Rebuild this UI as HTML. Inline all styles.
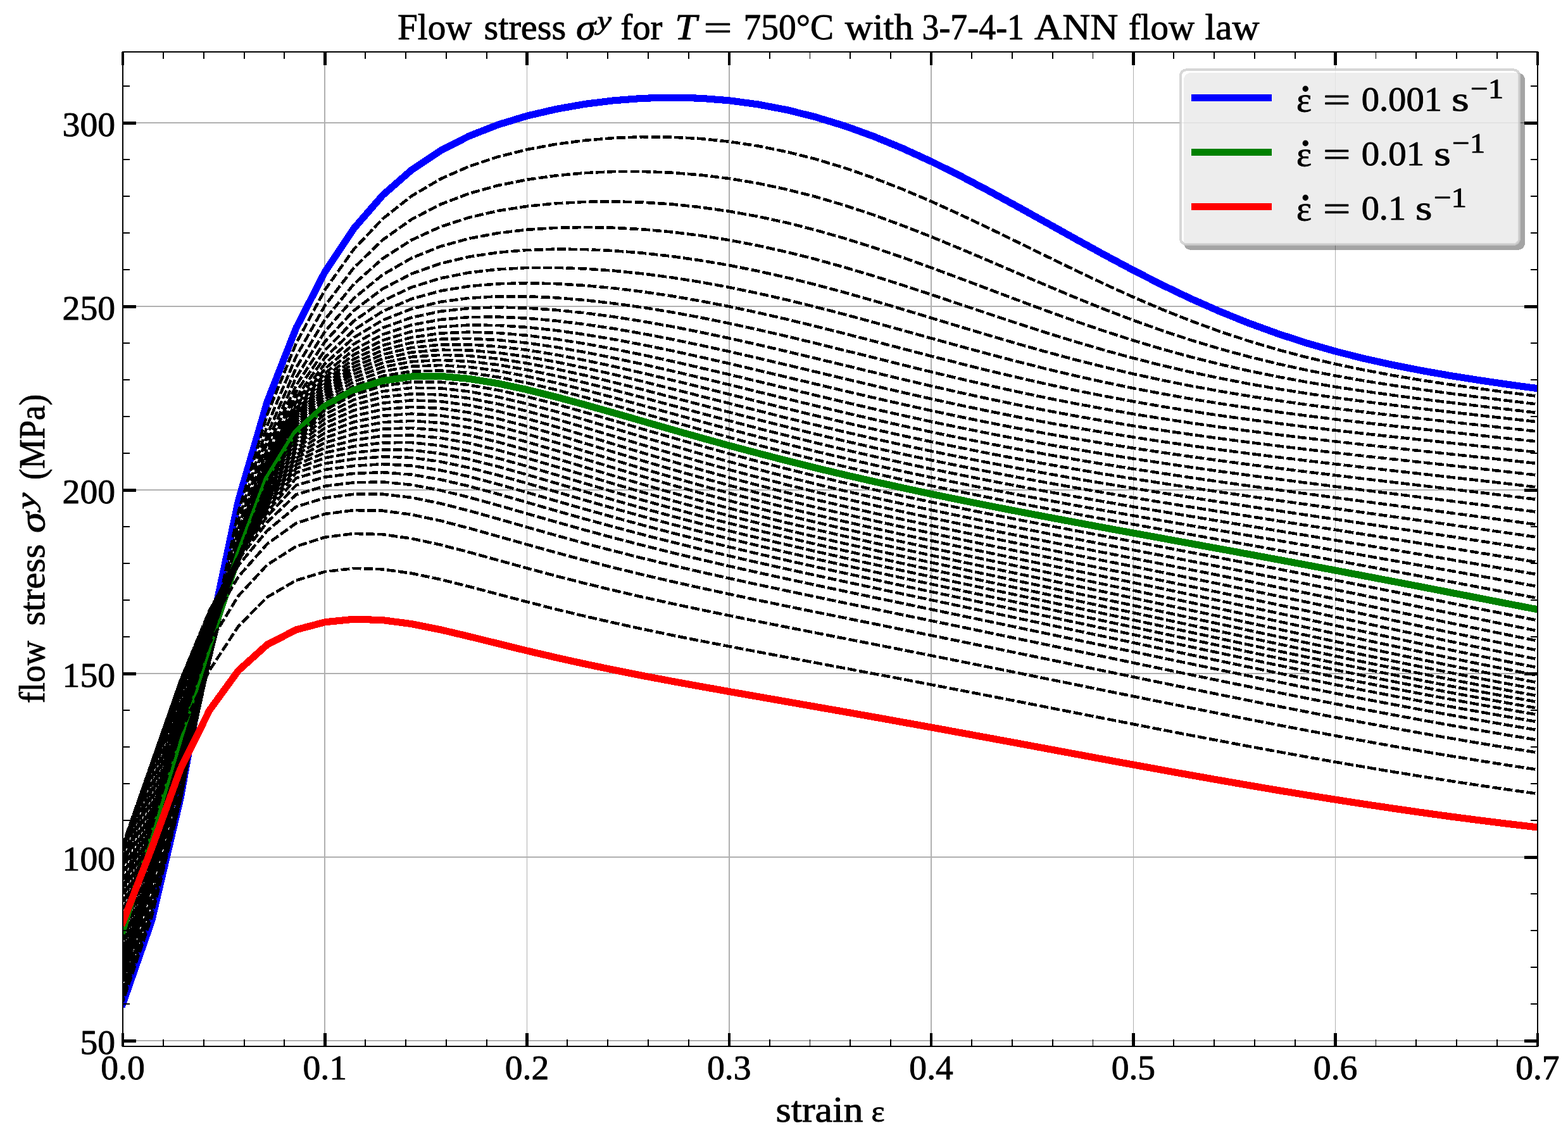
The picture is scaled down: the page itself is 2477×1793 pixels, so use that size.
<!DOCTYPE html>
<html lang="en"><head><meta charset="utf-8"><title>Flow stress for T = 750°C with 3-7-4-1 ANN flow law</title>
<style>html,body{margin:0;padding:0;background:#fff;width:2477px;height:1793px;overflow:hidden}svg{display:block}text{font-family:"Liberation Serif","DejaVu Serif",serif;fill:#000;stroke:#000;stroke-width:0.9px;stroke-linejoin:round}.t{font-size:55.6px}.i{font-style:italic}.d{fill:none;stroke:#000;stroke-width:4.6;stroke-dasharray:13.99 4.18;stroke-dashoffset:14.55;stroke-linejoin:round;shape-rendering:crispEdges}.c{fill:none;stroke-width:11.1;stroke-linejoin:round;stroke-linecap:square;shape-rendering:crispEdges}.g{stroke:#b0b0b0;stroke-width:1.7}.M{stroke:#000;stroke-width:4.6}.m{stroke:#000;stroke-width:1.9}</style></head><body>
<svg width="2477" height="1793" viewBox="0 0 2477 1793" shape-rendering="crispEdges">
<rect width="2477" height="1793" fill="#fff"/>
<defs><clipPath id="ax"><rect x="194.0" y="81.7" width="2234.9" height="1571.4"/></clipPath></defs>
<g class="g">
<line x1="194.0" y1="81.7" x2="194.0" y2="1653.1"/>
<line x1="513.3" y1="81.7" x2="513.3" y2="1653.1"/>
<line x1="832.5" y1="81.7" x2="832.5" y2="1653.1"/>
<line x1="1151.8" y1="81.7" x2="1151.8" y2="1653.1"/>
<line x1="1471.1" y1="81.7" x2="1471.1" y2="1653.1"/>
<line x1="1790.4" y1="81.7" x2="1790.4" y2="1653.1"/>
<line x1="2109.6" y1="81.7" x2="2109.6" y2="1653.1"/>
<line x1="2428.9" y1="81.7" x2="2428.9" y2="1653.1"/>
<line x1="194.0" y1="1644.3" x2="2428.9" y2="1644.3"/>
<line x1="194.0" y1="1354.3" x2="2428.9" y2="1354.3"/>
<line x1="194.0" y1="1064.3" x2="2428.9" y2="1064.3"/>
<line x1="194.0" y1="774.2" x2="2428.9" y2="774.2"/>
<line x1="194.0" y1="484.2" x2="2428.9" y2="484.2"/>
<line x1="194.0" y1="194.2" x2="2428.9" y2="194.2"/>
</g>
<g clip-path="url(#ax)">
<polyline class="c" stroke="#0000ff" points="2428.9,613.7 2383.3,607.5 2337.7,600.8 2292.1,593.6 2246.5,585.6 2200.8,576.6 2155.2,566.5 2109.6,555.0 2064.0,541.9 2018.4,527.1 1972.8,510.5 1927.2,492.1 1881.6,472.0 1836.0,450.2 1790.4,427.0 1744.7,402.6 1699.1,377.5 1653.5,352.0 1607.9,326.6 1562.3,301.7 1516.7,277.7 1471.1,255.1 1425.5,234.2 1379.9,215.4 1334.3,198.9 1288.6,185.0 1243.0,173.6 1197.4,164.9 1151.8,158.8 1106.2,155.2 1060.6,154.1 1015.0,155.3 969.4,158.8 923.8,164.4 878.2,172.5 832.5,183.1 786.9,197.0 741.3,214.8 695.7,238.1 650.1,268.5 604.5,308.5 558.9,361.0 513.3,429.5 467.7,518.5 422.1,634.7 376.4,791.6 330.8,1007.1 285.2,1260.5 239.6,1454.7 194.0,1585.6"/>
<polyline class="d" points="2428.9,625.9 2383.3,620.1 2337.7,614.0 2292.1,607.6 2246.5,600.7 2200.8,593.1 2155.2,584.6 2109.6,575.1 2064.0,564.4 2018.4,552.3 1972.8,538.8 1927.2,523.7 1881.6,507.0 1836.0,488.9 1790.4,469.4 1744.7,448.7 1699.1,427.1 1653.5,405.0 1607.9,382.7 1562.3,360.5 1516.7,338.9 1471.1,318.2 1425.5,298.8 1379.9,281.1 1334.3,265.2 1288.6,251.4 1243.0,239.9 1197.4,230.6 1151.8,223.7 1106.2,219.0 1060.6,216.6 1015.0,216.2 969.4,218.0 923.8,221.8 878.2,227.8 832.5,236.2 786.9,247.6 741.3,262.7 695.7,282.8 650.1,309.7 604.5,345.7 558.9,393.9 513.3,457.9 467.7,542.5 422.1,655.2 376.4,809.4 330.8,1021.1 285.2,1263.9 239.6,1448.4 194.0,1582.0"/>
<polyline class="d" points="2428.9,638.6 2383.3,633.1 2337.7,627.5 2292.1,621.7 2246.5,615.5 2200.8,608.8 2155.2,601.6 2109.6,593.6 2064.0,584.7 2018.4,574.7 1972.8,563.5 1927.2,551.1 1881.6,537.4 1836.0,522.3 1790.4,506.0 1744.7,488.6 1699.1,470.2 1653.5,451.1 1607.9,431.7 1562.3,412.1 1516.7,392.8 1471.1,374.0 1425.5,356.2 1379.9,339.5 1334.3,324.4 1288.6,310.9 1243.0,299.3 1197.4,289.6 1151.8,282.0 1106.2,276.4 1060.6,272.7 1015.0,271.0 969.4,271.1 923.8,273.2 878.2,277.4 832.5,283.8 786.9,292.9 741.3,305.6 695.7,322.9 650.1,346.6 604.5,379.0 558.9,423.2 513.3,482.9 467.7,563.4 422.1,672.5 376.4,823.9 330.8,1031.5 285.2,1264.2 239.6,1441.4 194.0,1578.3"/>
<polyline class="d" points="2428.9,652.1 2383.3,646.8 2337.7,641.5 2292.1,636.0 2246.5,630.4 2200.8,624.4 2155.2,618.0 2109.6,611.1 2064.0,603.5 2018.4,595.1 1972.8,585.8 1927.2,575.5 1881.6,564.0 1836.0,551.5 1790.4,537.8 1744.7,523.1 1699.1,507.5 1653.5,491.1 1607.9,474.2 1562.3,457.0 1516.7,439.8 1471.1,422.9 1425.5,406.5 1379.9,391.0 1334.3,376.6 1288.6,363.5 1243.0,351.9 1197.4,342.0 1151.8,333.8 1106.2,327.3 1060.6,322.5 1015.0,319.6 969.4,318.3 923.8,318.9 878.2,321.3 832.5,325.9 786.9,333.0 741.3,343.5 695.7,358.3 650.1,379.2 604.5,408.4 558.9,448.9 513.3,504.8 467.7,581.3 422.1,686.8 376.4,835.2 330.8,1038.8 285.2,1262.0 239.6,1434.0 194.0,1574.2"/>
<polyline class="d" points="2428.9,666.4 2383.3,661.3 2337.7,656.2 2292.1,651.0 2246.5,645.7 2200.8,640.1 2155.2,634.3 2109.6,628.2 2064.0,621.5 2018.4,614.3 1972.8,606.3 1927.2,597.5 1881.6,587.9 1836.0,577.3 1790.4,565.8 1744.7,553.3 1699.1,539.9 1653.5,525.8 1607.9,511.1 1562.3,496.0 1516.7,480.7 1471.1,465.4 1425.5,450.4 1379.9,435.9 1334.3,422.3 1288.6,409.6 1243.0,398.2 1197.4,388.0 1151.8,379.3 1106.2,372.1 1060.6,366.4 1015.0,362.3 969.4,359.8 923.8,359.0 878.2,359.9 832.5,362.8 786.9,368.2 741.3,376.7 695.7,389.3 650.1,407.7 604.5,434.0 558.9,471.3 513.3,523.6 467.7,596.4 422.1,698.5 376.4,844.0 330.8,1043.4 285.2,1257.9 239.6,1426.5 194.0,1569.9"/>
<polyline class="d" points="2428.9,681.6 2383.3,676.6 2337.7,671.6 2292.1,666.6 2246.5,661.5 2200.8,656.3 2155.2,650.9 2109.6,645.2 2064.0,639.2 2018.4,632.7 1972.8,625.7 1927.2,618.0 1881.6,609.7 1836.0,600.6 1790.4,590.7 1744.7,579.9 1699.1,568.4 1653.5,556.1 1607.9,543.2 1562.3,529.8 1516.7,516.1 1471.1,502.3 1425.5,488.5 1379.9,475.0 1334.3,462.1 1288.6,449.8 1243.0,438.5 1197.4,428.2 1151.8,419.1 1106.2,411.3 1060.6,404.8 1015.0,399.7 969.4,396.1 923.8,394.0 878.2,393.6 832.5,395.0 786.9,398.8 741.3,405.6 695.7,416.3 650.1,432.5 604.5,456.3 558.9,490.6 513.3,539.7 467.7,609.0 422.1,707.9 376.4,850.6 330.8,1045.9 285.2,1252.4 239.6,1418.8 194.0,1565.2"/>
<polyline class="d" points="2428.9,697.6 2383.3,692.7 2337.7,687.8 2292.1,682.8 2246.5,677.9 2200.8,672.9 2155.2,667.7 2109.6,662.4 2064.0,656.7 2018.4,650.8 1972.8,644.4 1927.2,637.5 1881.6,630.1 1836.0,622.0 1790.4,613.3 1744.7,603.8 1699.1,593.7 1653.5,582.9 1607.9,571.4 1562.3,559.4 1516.7,547.0 1471.1,534.4 1425.5,521.7 1379.9,509.1 1334.3,496.7 1288.6,484.9 1243.0,473.7 1197.4,463.3 1151.8,453.9 1106.2,445.5 1060.6,438.3 1015.0,432.3 969.4,427.7 923.8,424.5 878.2,422.8 832.5,423.0 786.9,425.4 741.3,430.6 695.7,439.6 650.1,453.8 604.5,475.4 558.9,507.2 513.3,553.3 467.7,619.5 422.1,715.3 376.4,855.4 330.8,1046.8 285.2,1246.0 239.6,1411.2 194.0,1560.3"/>
<polyline class="d" points="2428.9,714.5 2383.3,709.6 2337.7,704.7 2292.1,699.8 2246.5,694.9 2200.8,690.0 2155.2,685.0 2109.6,679.8 2064.0,674.4 2018.4,668.7 1972.8,662.7 1927.2,656.4 1881.6,649.5 1836.0,642.2 1790.4,634.2 1744.7,625.7 1699.1,616.6 1653.5,606.8 1607.9,596.4 1562.3,585.6 1516.7,574.2 1471.1,562.6 1425.5,550.7 1379.9,538.8 1334.3,527.0 1288.6,515.5 1243.0,504.4 1197.4,493.9 1151.8,484.2 1106.2,475.4 1060.6,467.5 1015.0,460.8 969.4,455.2 923.8,451.0 878.2,448.2 832.5,447.2 786.9,448.3 741.3,452.1 695.7,459.6 650.1,472.2 604.5,491.8 558.9,521.3 513.3,564.8 467.7,628.1 422.1,721.1 376.4,858.8 330.8,1046.4 285.2,1239.1 239.6,1403.7 194.0,1555.2"/>
<polyline class="d" points="2428.9,732.2 2383.3,727.2 2337.7,722.3 2292.1,717.4 2246.5,712.5 2200.8,707.5 2155.2,702.5 2109.6,697.4 2064.0,692.1 2018.4,686.6 1972.8,680.8 1927.2,674.7 1881.6,668.2 1836.0,661.3 1790.4,653.9 1744.7,646.0 1699.1,637.6 1653.5,628.6 1607.9,619.0 1562.3,608.9 1516.7,598.4 1471.1,587.5 1425.5,576.3 1379.9,564.9 1334.3,553.6 1288.6,542.3 1243.0,531.3 1197.4,520.8 1151.8,510.8 1106.2,501.5 1060.6,493.1 1015.0,485.6 969.4,479.3 923.8,474.1 878.2,470.3 832.5,468.2 786.9,468.2 741.3,470.8 695.7,476.9 650.1,487.9 604.5,505.8 558.9,533.3 513.3,574.5 467.7,635.2 422.1,725.7 376.4,861.2 330.8,1045.2 285.2,1231.9 239.6,1396.3 194.0,1549.9"/>
<polyline class="d" points="2428.9,750.7 2383.3,745.5 2337.7,740.5 2292.1,735.4 2246.5,730.4 2200.8,725.4 2155.2,720.4 2109.6,715.2 2064.0,709.9 2018.4,704.4 1972.8,698.7 1927.2,692.7 1881.6,686.4 1836.0,679.8 1790.4,672.7 1744.7,665.1 1699.1,657.1 1653.5,648.6 1607.9,639.6 1562.3,630.1 1516.7,620.2 1471.1,609.8 1425.5,599.1 1379.9,588.2 1334.3,577.1 1288.6,566.1 1243.0,555.2 1197.4,544.5 1151.8,534.3 1106.2,524.7 1060.6,515.7 1015.0,507.6 969.4,500.4 923.8,494.4 878.2,489.7 832.5,486.6 786.9,485.4 741.3,486.9 695.7,491.9 650.1,501.6 604.5,517.9 558.9,543.6 513.3,582.7 467.7,641.1 422.1,729.3 376.4,862.9 330.8,1043.3 285.2,1224.6 239.6,1389.0 194.0,1544.3"/>
<polyline class="d" points="2428.9,769.7 2383.3,764.3 2337.7,759.1 2292.1,753.9 2246.5,748.7 2200.8,743.6 2155.2,738.4 2109.6,733.1 2064.0,727.7 2018.4,722.1 1972.8,716.4 1927.2,710.4 1881.6,704.1 1836.0,697.6 1790.4,690.6 1744.7,683.3 1699.1,675.6 1653.5,667.4 1607.9,658.7 1562.3,649.6 1516.7,640.1 1471.1,630.1 1425.5,619.8 1379.9,609.1 1334.3,598.3 1288.6,587.4 1243.0,576.5 1197.4,565.8 1151.8,555.3 1106.2,545.3 1060.6,535.8 1015.0,527.0 969.4,519.1 923.8,512.3 878.2,506.7 832.5,502.7 786.9,500.6 741.3,501.0 695.7,504.9 650.1,513.4 604.5,528.4 558.9,552.6 513.3,589.8 467.7,646.1 422.1,732.2 376.4,864.1 330.8,1041.0 285.2,1217.5 239.6,1381.9 194.0,1538.6"/>
<polyline class="d" points="2428.9,789.1 2383.3,783.5 2337.7,778.0 2292.1,772.6 2246.5,767.2 2200.8,761.8 2155.2,756.4 2109.6,750.9 2064.0,745.3 2018.4,739.6 1972.8,733.8 1927.2,727.7 1881.6,721.4 1836.0,714.8 1790.4,707.9 1744.7,700.7 1699.1,693.1 1653.5,685.0 1607.9,676.6 1562.3,667.7 1516.7,658.4 1471.1,648.7 1425.5,638.6 1379.9,628.2 1334.3,617.6 1288.6,606.7 1243.0,595.8 1197.4,585.0 1151.8,574.3 1106.2,563.9 1060.6,553.9 1015.0,544.6 969.4,536.0 923.8,528.4 878.2,521.9 832.5,517.0 786.9,514.0 741.3,513.5 695.7,516.3 650.1,523.7 604.5,537.6 558.9,560.3 513.3,595.9 467.7,650.3 422.1,734.7 376.4,865.0 330.8,1038.5 285.2,1210.6 239.6,1375.0 194.0,1532.7"/>
<polyline class="d" points="2428.9,808.9 2383.3,803.0 2337.7,797.2 2292.1,791.5 2246.5,785.7 2200.8,780.1 2155.2,774.4 2109.6,768.6 2064.0,762.8 2018.4,756.9 1972.8,750.8 1927.2,744.6 1881.6,738.2 1836.0,731.5 1790.4,724.6 1744.7,717.3 1699.1,709.7 1653.5,701.8 1607.9,693.5 1562.3,684.7 1516.7,675.6 1471.1,666.1 1425.5,656.1 1379.9,645.9 1334.3,635.3 1288.6,624.5 1243.0,613.5 1197.4,602.5 1151.8,591.6 1106.2,580.9 1060.6,570.4 1015.0,560.5 969.4,551.3 923.8,542.9 878.2,535.7 832.5,529.9 786.9,526.0 741.3,524.6 695.7,526.5 650.1,533.0 604.5,545.7 558.9,567.3 513.3,601.4 467.7,654.1 422.1,736.8 376.4,865.9 330.8,1036.0 285.2,1204.0 239.6,1368.2 194.0,1526.6"/>
<polyline class="d" points="2428.9,828.8 2383.3,822.6 2337.7,816.4 2292.1,810.3 2246.5,804.2 2200.8,798.2 2155.2,792.2 2109.6,786.1 2064.0,780.0 2018.4,773.8 1972.8,767.5 1927.2,761.1 1881.6,754.5 1836.0,747.7 1790.4,740.7 1744.7,733.4 1699.1,725.8 1653.5,717.8 1607.9,709.5 1562.3,700.9 1516.7,691.8 1471.1,682.4 1425.5,672.5 1379.9,662.4 1334.3,651.8 1288.6,641.0 1243.0,630.0 1197.4,618.9 1151.8,607.7 1106.2,596.6 1060.6,585.8 1015.0,575.3 969.4,565.5 923.8,556.4 878.2,548.4 832.5,541.8 786.9,537.1 741.3,534.8 695.7,535.8 650.1,541.4 604.5,553.2 558.9,573.6 513.3,606.4 467.7,657.5 422.1,738.8 376.4,866.8 330.8,1033.4 285.2,1197.8 239.6,1361.6 194.0,1520.4"/>
<polyline class="d" points="2428.9,848.7 2383.3,842.1 2337.7,835.6 2292.1,829.1 2246.5,822.6 2200.8,816.2 2155.2,809.8 2109.6,803.4 2064.0,796.9 2018.4,790.5 1972.8,783.9 1927.2,777.2 1881.6,770.4 1836.0,763.4 1790.4,756.3 1744.7,748.9 1699.1,741.2 1653.5,733.2 1607.9,724.9 1562.3,716.3 1516.7,707.2 1471.1,697.8 1425.5,688.1 1379.9,677.9 1334.3,667.4 1288.6,656.6 1243.0,645.5 1197.4,634.2 1151.8,622.8 1106.2,611.4 1060.6,600.2 1015.0,589.3 969.4,578.8 923.8,569.1 878.2,560.3 832.5,552.9 786.9,547.4 741.3,544.3 695.7,544.5 650.1,549.2 604.5,560.1 558.9,579.5 513.3,611.1 467.7,660.8 422.1,740.8 376.4,867.9 330.8,1030.9 285.2,1191.9 239.6,1355.0 194.0,1514.0"/>
<polyline class="d" points="2428.9,868.6 2383.3,861.6 2337.7,854.6 2292.1,847.6 2246.5,840.8 2200.8,833.9 2155.2,827.1 2109.6,820.3 2064.0,813.6 2018.4,806.7 1972.8,799.9 1927.2,793.0 1881.6,785.9 1836.0,778.7 1790.4,771.4 1744.7,763.8 1699.1,756.1 1653.5,748.0 1607.9,739.7 1562.3,731.0 1516.7,722.0 1471.1,712.7 1425.5,702.9 1379.9,692.8 1334.3,682.3 1288.6,671.4 1243.0,660.3 1197.4,648.8 1151.8,637.2 1106.2,625.6 1060.6,614.0 1015.0,602.5 969.4,591.5 923.8,581.2 878.2,571.7 832.5,563.6 786.9,557.2 741.3,553.3 695.7,552.7 650.1,556.6 604.5,566.7 558.9,585.3 513.3,615.7 467.7,664.1 422.1,743.0 376.4,869.2 330.8,1028.4 285.2,1186.3 239.6,1348.5 194.0,1507.3"/>
<polyline class="d" points="2428.9,888.2 2383.3,880.8 2337.7,873.4 2292.1,866.0 2246.5,858.7 2200.8,851.4 2155.2,844.2 2109.6,837.0 2064.0,829.9 2018.4,822.7 1972.8,815.5 1927.2,808.3 1881.6,801.0 1836.0,793.6 1790.4,786.1 1744.7,778.4 1699.1,770.5 1653.5,762.4 1607.9,754.0 1562.3,745.3 1516.7,736.3 1471.1,726.9 1425.5,717.2 1379.9,707.1 1334.3,696.6 1288.6,685.7 1243.0,674.4 1197.4,662.9 1151.8,651.1 1106.2,639.2 1060.6,627.3 1015.0,615.4 969.4,603.9 923.8,592.9 878.2,582.8 832.5,573.9 786.9,566.8 741.3,562.1 695.7,560.8 650.1,563.9 604.5,573.3 558.9,591.0 513.3,620.4 467.7,667.5 422.1,745.3 376.4,870.7 330.8,1026.0 285.2,1181.0 239.6,1342.0 194.0,1500.4"/>
<polyline class="d" points="2428.9,907.6 2383.3,899.7 2337.7,891.9 2292.1,884.1 2246.5,876.3 2200.8,868.6 2155.2,861.0 2109.6,853.4 2064.0,845.9 2018.4,838.4 1972.8,830.9 1927.2,823.4 1881.6,815.8 1836.0,808.2 1790.4,800.5 1744.7,792.6 1699.1,784.6 1653.5,776.4 1607.9,767.9 1562.3,759.2 1516.7,750.1 1471.1,740.8 1425.5,731.0 1379.9,720.9 1334.3,710.4 1288.6,699.5 1243.0,688.2 1197.4,676.6 1151.8,664.6 1106.2,652.5 1060.6,640.2 1015.0,628.0 969.4,616.0 923.8,604.5 878.2,593.7 832.5,584.2 786.9,576.3 741.3,570.9 695.7,568.8 650.1,571.3 604.5,579.9 558.9,596.9 513.3,625.3 467.7,671.1 422.1,747.8 376.4,872.5 330.8,1023.7 285.2,1175.8 239.6,1335.5 194.0,1493.1"/>
<polyline class="d" points="2428.9,926.5 2383.3,918.2 2337.7,910.0 2292.1,901.8 2246.5,893.7 2200.8,885.6 2155.2,877.5 2109.6,869.6 2064.0,861.7 2018.4,853.8 1972.8,846.0 1927.2,838.2 1881.6,830.4 1836.0,822.5 1790.4,814.6 1744.7,806.5 1699.1,798.4 1653.5,790.0 1607.9,781.5 1562.3,772.7 1516.7,763.6 1471.1,754.2 1425.5,744.5 1379.9,734.4 1334.3,723.9 1288.6,713.0 1243.0,701.6 1197.4,689.9 1151.8,677.9 1106.2,665.6 1060.6,653.0 1015.0,640.5 969.4,628.1 923.8,616.0 878.2,604.7 832.5,594.5 786.9,585.9 741.3,579.8 695.7,577.0 650.1,578.8 604.5,586.8 558.9,603.0 513.3,630.4 467.7,674.9 422.1,750.7 376.4,874.5 330.8,1021.5 285.2,1170.7 239.6,1328.8 194.0,1485.6"/>
<polyline class="d" points="2428.9,944.9 2383.3,936.4 2337.7,927.8 2292.1,919.2 2246.5,910.7 2200.8,902.2 2155.2,893.8 2109.6,885.5 2064.0,877.2 2018.4,869.0 1972.8,860.8 1927.2,852.7 1881.6,844.6 1836.0,836.5 1790.4,828.4 1744.7,820.2 1699.1,811.9 1653.5,803.4 1607.9,794.8 1562.3,786.0 1516.7,776.8 1471.1,767.4 1425.5,757.7 1379.9,747.6 1334.3,737.1 1288.6,726.2 1243.0,714.8 1197.4,703.1 1151.8,690.9 1106.2,678.5 1060.6,665.7 1015.0,652.9 969.4,640.1 923.8,627.6 878.2,615.7 832.5,604.9 786.9,595.7 741.3,588.9 695.7,585.5 650.1,586.6 604.5,594.0 558.9,609.4 513.3,635.8 467.7,678.9 422.1,753.8 376.4,876.7 330.8,1019.2 285.2,1165.6 239.6,1322.0 194.0,1477.7"/>
<polyline class="c" stroke="#008000" points="2428.9,962.8 2383.3,954.0 2337.7,945.1 2292.1,936.2 2246.5,927.3 2200.8,918.5 2155.2,909.8 2109.6,901.1 2064.0,892.5 2018.4,884.0 1972.8,875.5 1927.2,867.1 1881.6,858.8 1836.0,850.4 1790.4,842.1 1744.7,833.7 1699.1,825.2 1653.5,816.6 1607.9,807.9 1562.3,799.0 1516.7,789.8 1471.1,780.4 1425.5,770.6 1379.9,760.5 1334.3,750.1 1288.6,739.2 1243.0,727.8 1197.4,716.0 1151.8,703.9 1106.2,691.3 1060.6,678.4 1015.0,665.3 969.4,652.2 923.8,639.3 878.2,627.0 832.5,615.6 786.9,605.8 741.3,598.4 695.7,594.3 650.1,594.9 604.5,601.6 558.9,616.3 513.3,641.6 467.7,683.3 422.1,757.2 376.4,878.9 330.8,1016.8 285.2,1160.4 239.6,1314.9 194.0,1469.4"/>
<polyline class="d" points="2428.9,980.1 2383.3,971.0 2337.7,961.9 2292.1,952.8 2246.5,943.6 2200.8,934.5 2155.2,925.5 2109.6,916.5 2064.0,907.6 2018.4,898.7 1972.8,890.0 1927.2,881.3 1881.6,872.7 1836.0,864.1 1790.4,855.5 1744.7,847.0 1699.1,838.3 1653.5,829.6 1607.9,820.8 1562.3,811.8 1516.7,802.6 1471.1,793.1 1425.5,783.4 1379.9,773.3 1334.3,762.8 1288.6,751.9 1243.0,740.6 1197.4,728.9 1151.8,716.6 1106.2,704.0 1060.6,691.0 1015.0,677.8 969.4,664.4 923.8,651.2 878.2,638.4 832.5,626.6 786.9,616.3 741.3,608.3 695.7,603.6 650.1,603.5 604.5,609.6 558.9,623.6 513.3,647.8 467.7,687.9 422.1,760.8 376.4,881.2 330.8,1014.4 285.2,1155.1 239.6,1307.6 194.0,1460.7"/>
<polyline class="d" points="2428.9,996.6 2383.3,987.5 2337.7,978.2 2292.1,968.8 2246.5,959.5 2200.8,950.1 2155.2,940.8 2109.6,931.6 2064.0,922.4 2018.4,913.3 1972.8,904.3 1927.2,895.3 1881.6,886.5 1836.0,877.6 1790.4,868.9 1744.7,860.1 1699.1,851.3 1653.5,842.5 1607.9,833.5 1562.3,824.5 1516.7,815.2 1471.1,805.7 1425.5,795.9 1379.9,785.9 1334.3,775.4 1288.6,764.6 1243.0,753.3 1197.4,741.5 1151.8,729.3 1106.2,716.7 1060.6,703.6 1015.0,690.2 969.4,676.7 923.8,663.2 878.2,650.1 832.5,637.9 786.9,627.1 741.3,618.5 695.7,613.3 650.1,612.7 604.5,618.2 558.9,631.4 513.3,654.4 467.7,692.8 422.1,764.6 376.4,883.4 330.8,1011.7 285.2,1149.6 239.6,1300.0 194.0,1451.6"/>
<polyline class="d" points="2428.9,1012.4 2383.3,1003.2 2337.7,993.8 2292.1,984.4 2246.5,974.8 2200.8,965.3 2155.2,955.8 2109.6,946.3 2064.0,936.9 2018.4,927.6 1972.8,918.3 1927.2,909.1 1881.6,900.1 1836.0,891.0 1790.4,882.0 1744.7,873.1 1699.1,864.1 1653.5,855.2 1607.9,846.1 1562.3,836.9 1516.7,827.6 1471.1,818.1 1425.5,808.3 1379.9,798.2 1334.3,787.8 1288.6,777.0 1243.0,765.8 1197.4,754.1 1151.8,741.9 1106.2,729.3 1060.6,716.2 1015.0,702.8 969.4,689.1 923.8,675.4 878.2,662.1 832.5,649.5 786.9,638.2 741.3,629.2 695.7,623.5 650.1,622.3 604.5,627.2 558.9,639.7 513.3,661.4 467.7,697.9 422.1,768.6 376.4,885.4 330.8,1008.7 285.2,1143.9 239.6,1292.1 194.0,1442.1"/>
<polyline class="d" points="2428.9,1027.4 2383.3,1018.2 2337.7,1008.8 2292.1,999.3 2246.5,989.7 2200.8,980.0 2155.2,970.4 2109.6,960.7 2064.0,951.1 2018.4,941.6 1972.8,932.1 1927.2,922.7 1881.6,913.4 1836.0,904.2 1790.4,895.0 1744.7,885.9 1699.1,876.8 1653.5,867.7 1607.9,858.5 1562.3,849.2 1516.7,839.9 1471.1,830.3 1425.5,820.5 1379.9,810.4 1334.3,800.0 1288.6,789.3 1243.0,778.1 1197.4,766.5 1151.8,754.4 1106.2,741.8 1060.6,728.7 1015.0,715.3 969.4,701.6 923.8,687.8 878.2,674.2 832.5,661.3 786.9,649.7 741.3,640.3 695.7,634.1 650.1,632.4 604.5,636.7 558.9,648.3 513.3,668.6 467.7,703.1 422.1,772.6 376.4,887.0 330.8,1005.5 285.2,1137.8 239.6,1283.9 194.0,1432.3"/>
<polyline class="d" points="2428.9,1041.4 2383.3,1032.3 2337.7,1023.0 2292.1,1013.5 2246.5,1003.8 2200.8,994.1 2155.2,984.4 2109.6,974.7 2064.0,964.9 2018.4,955.3 1972.8,945.6 1927.2,936.1 1881.6,926.6 1836.0,917.2 1790.4,907.9 1744.7,898.6 1699.1,889.3 1653.5,880.0 1607.9,870.7 1562.3,861.4 1516.7,851.9 1471.1,842.3 1425.5,832.5 1379.9,822.4 1334.3,812.1 1288.6,801.4 1243.0,790.3 1197.4,778.7 1151.8,766.7 1106.2,754.2 1060.6,741.2 1015.0,727.8 969.4,714.1 923.8,700.2 878.2,686.5 832.5,673.4 786.9,661.6 741.3,651.7 695.7,645.0 650.1,642.9 604.5,646.6 558.9,657.3 513.3,676.2 467.7,708.3 422.1,776.6 376.4,888.2 330.8,1001.8 285.2,1131.5 239.6,1275.4 194.0,1422.1"/>
<polyline class="d" points="2428.9,1054.6 2383.3,1045.6 2337.7,1036.3 2292.1,1026.9 2246.5,1017.4 2200.8,1007.7 2155.2,997.9 2109.6,988.1 2064.0,978.3 2018.4,968.5 1972.8,958.8 1927.2,949.1 1881.6,939.5 1836.0,929.9 1790.4,920.4 1744.7,911.0 1699.1,901.6 1653.5,892.2 1607.9,882.8 1562.3,873.3 1516.7,863.8 1471.1,854.1 1425.5,844.3 1379.9,834.3 1334.3,823.9 1288.6,813.3 1243.0,802.2 1197.4,790.8 1151.8,778.9 1106.2,766.5 1060.6,753.6 1015.0,740.3 969.4,726.6 923.8,712.7 878.2,699.0 832.5,685.8 786.9,673.6 741.3,663.5 695.7,656.4 650.1,653.7 604.5,656.8 558.9,666.6 513.3,683.8 467.7,713.6 422.1,780.6 376.4,888.8 330.8,997.8 285.2,1124.8 239.6,1266.6 194.0,1411.6"/>
<polyline class="d" points="2428.9,1066.9 2383.3,1058.0 2337.7,1048.9 2292.1,1039.6 2246.5,1030.1 2200.8,1020.5 2155.2,1010.8 2109.6,1001.0 2064.0,991.2 2018.4,981.4 1972.8,971.5 1927.2,961.8 1881.6,952.0 1836.0,942.4 1790.4,932.7 1744.7,923.2 1699.1,913.6 1653.5,904.1 1607.9,894.6 1562.3,885.1 1516.7,875.5 1471.1,865.8 1425.5,856.0 1379.9,845.9 1334.3,835.6 1288.6,825.0 1243.0,814.1 1197.4,802.7 1151.8,790.9 1106.2,778.7 1060.6,765.9 1015.0,752.7 969.4,739.1 923.8,725.3 878.2,711.6 832.5,698.2 786.9,685.9 741.3,675.5 695.7,668.0 650.1,664.8 604.5,667.2 558.9,676.1 513.3,691.6 467.7,718.7 422.1,784.5 376.4,888.8 330.8,993.4 285.2,1117.9 239.6,1257.6 194.0,1401.0"/>
<polyline class="d" points="2428.9,1078.3 2383.3,1069.6 2337.7,1060.7 2292.1,1051.6 2246.5,1042.2 2200.8,1032.7 2155.2,1023.1 2109.6,1013.4 2064.0,1003.6 2018.4,993.7 1972.8,983.9 1927.2,974.0 1881.6,964.2 1836.0,954.5 1790.4,944.8 1744.7,935.1 1699.1,925.5 1653.5,915.9 1607.9,906.3 1562.3,896.7 1516.7,887.0 1471.1,877.3 1425.5,867.4 1379.9,857.4 1334.3,847.1 1288.6,836.6 1243.0,825.8 1197.4,814.5 1151.8,802.9 1106.2,790.8 1060.6,778.2 1015.0,765.1 969.4,751.7 923.8,738.0 878.2,724.3 832.5,710.9 786.9,698.4 741.3,687.7 695.7,679.8 650.1,676.1 604.5,677.8 558.9,685.7 513.3,699.4 467.7,723.8 422.1,788.2 376.4,888.1 330.8,988.7 285.2,1110.8 239.6,1248.5 194.0,1390.2"/>
<polyline class="d" points="2428.9,1089.0 2383.3,1080.5 2337.7,1071.8 2292.1,1062.8 2246.5,1053.7 2200.8,1044.3 2155.2,1034.8 2109.6,1025.1 2064.0,1015.4 2018.4,1005.6 1972.8,995.8 1927.2,985.9 1881.6,976.1 1836.0,966.3 1790.4,956.5 1744.7,946.8 1699.1,937.1 1653.5,927.4 1607.9,917.8 1562.3,908.1 1516.7,898.4 1471.1,888.6 1425.5,878.8 1379.9,868.8 1334.3,858.6 1288.6,848.1 1243.0,837.4 1197.4,826.3 1151.8,814.8 1106.2,802.8 1060.6,790.4 1015.0,777.6 969.4,764.3 923.8,750.7 878.2,737.1 832.5,723.7 786.9,711.1 741.3,700.1 695.7,691.8 650.1,687.5 604.5,688.5 558.9,695.4 513.3,707.3 467.7,728.9 422.1,791.9 376.4,886.8 330.8,983.7 285.2,1103.5 239.6,1239.5 194.0,1379.5"/>
<polyline class="d" points="2428.9,1099.2 2383.3,1090.9 2337.7,1082.3 2292.1,1073.5 2246.5,1064.5 2200.8,1055.3 2155.2,1046.0 2109.6,1036.4 2064.0,1026.8 2018.4,1017.1 1972.8,1007.3 1927.2,997.5 1881.6,987.7 1836.0,977.8 1790.4,968.0 1744.7,958.3 1699.1,948.5 1653.5,938.8 1607.9,929.1 1562.3,919.4 1516.7,909.7 1471.1,899.9 1425.5,890.1 1379.9,880.1 1334.3,869.9 1288.6,859.6 1243.0,848.9 1197.4,838.0 1151.8,826.7 1106.2,814.9 1060.6,802.7 1015.0,790.0 969.4,777.0 923.8,763.6 878.2,750.0 832.5,736.6 786.9,724.0 741.3,712.7 695.7,704.0 650.1,699.1 604.5,699.3 558.9,705.1 513.3,715.2 467.7,734.2 422.1,795.6 376.4,885.0 330.8,978.6 285.2,1096.3 239.6,1230.6 194.0,1369.0"/>
<polyline class="d" points="2428.9,1109.0 2383.3,1100.9 2337.7,1092.5 2292.1,1083.9 2246.5,1075.0 2200.8,1066.0 2155.2,1056.8 2109.6,1047.4 2064.0,1037.9 2018.4,1028.3 1972.8,1018.6 1927.2,1008.8 1881.6,999.0 1836.0,989.2 1790.4,979.4 1744.7,969.6 1699.1,959.9 1653.5,950.1 1607.9,940.4 1562.3,930.7 1516.7,921.0 1471.1,911.2 1425.5,901.4 1379.9,891.5 1334.3,881.4 1288.6,871.1 1243.0,860.6 1197.4,849.8 1151.8,838.7 1106.2,827.1 1060.6,815.2 1015.0,802.7 969.4,789.9 923.8,776.6 878.2,763.2 832.5,749.9 786.9,737.1 741.3,725.6 695.7,716.5 650.1,710.9 604.5,710.2 558.9,715.0 513.3,723.4 467.7,740.0 422.1,799.5 376.4,882.9 330.8,973.7 285.2,1089.3 239.6,1222.3 194.0,1359.1"/>
<polyline class="d" points="2428.9,1118.8 2383.3,1110.9 2337.7,1102.6 2292.1,1094.2 2246.5,1085.5 2200.8,1076.6 2155.2,1067.5 2109.6,1058.3 2064.0,1048.9 2018.4,1039.4 1972.8,1029.8 1927.2,1020.1 1881.6,1010.4 1836.0,1000.6 1790.4,990.8 1744.7,981.1 1699.1,971.3 1653.5,961.6 1607.9,951.9 1562.3,942.2 1516.7,932.5 1471.1,922.7 1425.5,913.0 1379.9,903.1 1334.3,893.1 1288.6,883.0 1243.0,872.6 1197.4,862.0 1151.8,851.0 1106.2,839.7 1060.6,828.0 1015.0,815.8 969.4,803.1 923.8,790.1 878.2,776.8 832.5,763.5 786.9,750.7 741.3,738.9 695.7,729.3 650.1,723.0 604.5,721.4 558.9,725.1 513.3,732.2 467.7,746.8 422.1,803.8 376.4,881.0 330.8,969.3 285.2,1083.0 239.6,1214.8 194.0,1350.0"/>
<polyline class="d" points="2428.9,1129.1 2383.3,1121.2 2337.7,1113.2 2292.1,1104.8 2246.5,1096.3 2200.8,1087.5 2155.2,1078.6 2109.6,1069.5 2064.0,1060.2 2018.4,1050.8 1972.8,1041.3 1927.2,1031.7 1881.6,1022.0 1836.0,1012.3 1790.4,1002.6 1744.7,992.9 1699.1,983.2 1653.5,973.5 1607.9,963.8 1562.3,954.1 1516.7,944.4 1471.1,934.8 1425.5,925.1 1379.9,915.3 1334.3,905.4 1288.6,895.4 1243.0,885.2 1197.4,874.8 1151.8,864.0 1106.2,853.0 1060.6,841.5 1015.0,829.5 969.4,817.1 923.8,804.3 878.2,791.2 832.5,777.9 786.9,765.0 741.3,752.9 695.7,742.8 650.1,735.7 604.5,733.2 558.9,735.9 513.3,742.0 467.7,755.4 422.1,809.0 376.4,879.8 330.8,966.0 285.2,1077.8 239.6,1208.8 194.0,1342.4"/>
<polyline class="d" points="2428.9,1140.4 2383.3,1132.6 2337.7,1124.6 2292.1,1116.4 2246.5,1108.0 2200.8,1099.4 2155.2,1090.5 2109.6,1081.6 2064.0,1072.4 2018.4,1063.1 1972.8,1053.7 1927.2,1044.2 1881.6,1034.6 1836.0,1025.0 1790.4,1015.3 1744.7,1005.6 1699.1,996.0 1653.5,986.3 1607.9,976.7 1562.3,967.0 1516.7,957.4 1471.1,947.8 1425.5,938.2 1379.9,928.5 1334.3,918.8 1288.6,908.9 1243.0,898.9 1197.4,888.7 1151.8,878.2 1106.2,867.4 1060.6,856.1 1015.0,844.5 969.4,832.3 923.8,819.8 878.2,806.8 832.5,793.6 786.9,780.5 741.3,768.2 695.7,757.5 650.1,749.7 604.5,746.2 558.9,747.9 513.3,753.6 467.7,766.6 422.1,815.7 376.4,880.4 330.8,964.8 285.2,1074.6 239.6,1205.1 194.0,1337.0"/>
<polyline class="d" points="2428.9,1153.3 2383.3,1145.7 2337.7,1137.8 2292.1,1129.7 2246.5,1121.4 2200.8,1112.9 2155.2,1104.2 2109.6,1095.3 2064.0,1086.3 2018.4,1077.1 1972.8,1067.8 1927.2,1058.3 1881.6,1048.8 1836.0,1039.3 1790.4,1029.7 1744.7,1020.1 1699.1,1010.5 1653.5,1000.9 1607.9,991.3 1562.3,981.7 1516.7,972.2 1471.1,962.7 1425.5,953.1 1379.9,943.6 1334.3,934.0 1288.6,924.3 1243.0,914.5 1197.4,904.5 1151.8,894.3 1106.2,883.7 1060.6,872.8 1015.0,861.4 969.4,849.6 923.8,837.3 878.2,824.5 832.5,811.4 786.9,798.3 741.3,785.7 695.7,774.5 650.1,765.9 604.5,761.4 558.9,762.3 513.3,767.9 467.7,781.3 422.1,824.9 376.4,884.3 330.8,966.8 285.2,1074.8 239.6,1204.8 194.0,1335.0"/>
<polyline class="d" points="2428.9,1168.9 2383.3,1161.5 2337.7,1153.7 2292.1,1145.8 2246.5,1137.6 2200.8,1129.3 2155.2,1120.7 2109.6,1111.9 2064.0,1103.0 2018.4,1093.9 1972.8,1084.7 1927.2,1075.4 1881.6,1066.0 1836.0,1056.6 1790.4,1047.1 1744.7,1037.5 1699.1,1028.0 1653.5,1018.5 1607.9,1009.0 1562.3,999.5 1516.7,990.0 1471.1,980.6 1425.5,971.2 1379.9,961.8 1334.3,952.4 1288.6,942.9 1243.0,933.3 1197.4,923.6 1151.8,913.6 1106.2,903.4 1060.6,892.8 1015.0,881.8 969.4,870.3 923.8,858.3 878.2,845.7 832.5,832.8 786.9,819.7 741.3,806.9 695.7,795.3 650.1,786.0 604.5,780.7 558.9,780.7 513.3,786.5 467.7,800.6 422.1,838.4 376.4,893.5 330.8,974.0 285.2,1080.0 239.6,1209.7 194.0,1338.0"/>
<polyline class="d" points="2428.9,1188.9 2383.3,1181.6 2337.7,1174.1 2292.1,1166.4 2246.5,1158.4 2200.8,1150.2 2155.2,1141.8 2109.6,1133.3 2064.0,1124.5 2018.4,1115.6 1972.8,1106.6 1927.2,1097.4 1881.6,1088.1 1836.0,1078.8 1790.4,1069.4 1744.7,1060.0 1699.1,1050.6 1653.5,1041.1 1607.9,1031.8 1562.3,1022.4 1516.7,1013.1 1471.1,1003.8 1425.5,994.6 1379.9,985.3 1334.3,976.1 1288.6,966.9 1243.0,957.6 1197.4,948.1 1151.8,938.5 1106.2,928.6 1060.6,918.4 1015.0,907.8 969.4,896.7 923.8,885.1 878.2,872.9 832.5,860.2 786.9,847.3 741.3,834.5 695.7,822.6 650.1,812.9 604.5,806.8 558.9,806.1 513.3,811.9 467.7,826.6 422.1,859.3 376.4,911.2 330.8,989.2 285.2,1092.9 239.6,1222.2 194.0,1348.3"/>
<polyline class="d" points="2428.9,1215.9 2383.3,1209.0 2337.7,1201.8 2292.1,1194.3 2246.5,1186.7 2200.8,1178.8 2155.2,1170.6 2109.6,1162.3 2064.0,1153.8 2018.4,1145.2 1972.8,1136.4 1927.2,1127.4 1881.6,1118.4 1836.0,1109.2 1790.4,1100.0 1744.7,1090.8 1699.1,1081.5 1653.5,1072.3 1607.9,1063.0 1562.3,1053.9 1516.7,1044.7 1471.1,1035.6 1425.5,1026.6 1379.9,1017.6 1334.3,1008.7 1288.6,999.7 1243.0,990.7 1197.4,981.7 1151.8,972.4 1106.2,963.0 1060.6,953.3 1015.0,943.2 969.4,932.6 923.8,921.5 878.2,909.8 832.5,897.6 786.9,885.0 741.3,872.4 695.7,860.6 650.1,850.7 604.5,844.2 558.9,843.0 513.3,848.7 467.7,863.2 422.1,892.3 376.4,941.5 330.8,1016.2 285.2,1117.1 239.6,1245.6 194.0,1368.9"/>
<polyline class="d" points="2428.9,1253.9 2383.3,1247.5 2337.7,1240.8 2292.1,1233.9 2246.5,1226.7 2200.8,1219.3 2155.2,1211.6 2109.6,1203.8 2064.0,1195.7 2018.4,1187.4 1972.8,1179.0 1927.2,1170.4 1881.6,1161.7 1836.0,1152.9 1790.4,1144.0 1744.7,1135.0 1699.1,1126.1 1653.5,1117.1 1607.9,1108.1 1562.3,1099.2 1516.7,1090.4 1471.1,1081.6 1425.5,1072.8 1379.9,1064.2 1334.3,1055.6 1288.6,1047.0 1243.0,1038.4 1197.4,1029.8 1151.8,1021.1 1106.2,1012.3 1060.6,1003.2 1015.0,993.7 969.4,983.8 923.8,973.4 878.2,962.4 832.5,950.8 786.9,938.8 741.3,926.7 695.7,915.3 650.1,905.7 604.5,899.3 558.9,897.9 513.3,903.1 467.7,916.9 422.1,943.4 376.4,989.5 330.8,1059.2 285.2,1156.4 239.6,1283.7 194.0,1403.8"/>
<polyline class="c" stroke="#ff0000" points="2428.9,1306.9 2383.3,1301.6 2337.7,1295.9 2292.1,1290.0 2246.5,1283.7 2200.8,1277.1 2155.2,1270.3 2109.6,1263.2 2064.0,1255.9 2018.4,1248.4 1972.8,1240.6 1927.2,1232.7 1881.6,1224.6 1836.0,1216.4 1790.4,1208.1 1744.7,1199.7 1699.1,1191.2 1653.5,1182.7 1607.9,1174.2 1562.3,1165.8 1516.7,1157.4 1471.1,1149.0 1425.5,1140.8 1379.9,1132.6 1334.3,1124.5 1288.6,1116.5 1243.0,1108.5 1197.4,1100.5 1151.8,1092.5 1106.2,1084.3 1060.6,1076.0 1015.0,1067.4 969.4,1058.3 923.8,1048.8 878.2,1038.7 832.5,1028.0 786.9,1016.8 741.3,1005.5 695.7,994.7 650.1,985.6 604.5,979.6 558.9,978.2 513.3,982.8 467.7,994.9 422.1,1018.4 376.4,1059.5 330.8,1122.3 285.2,1214.6 239.6,1340.1 194.0,1456.8"/>
</g>
<g class="M">
<line x1="194.0" y1="1653.1" x2="194.0" y2="1632.1"/>
<line x1="194.0" y1="81.7" x2="194.0" y2="102.7"/>
<line x1="513.3" y1="1653.1" x2="513.3" y2="1632.1"/>
<line x1="513.3" y1="81.7" x2="513.3" y2="102.7"/>
<line x1="832.5" y1="1653.1" x2="832.5" y2="1632.1"/>
<line x1="832.5" y1="81.7" x2="832.5" y2="102.7"/>
<line x1="1151.8" y1="1653.1" x2="1151.8" y2="1632.1"/>
<line x1="1151.8" y1="81.7" x2="1151.8" y2="102.7"/>
<line x1="1471.1" y1="1653.1" x2="1471.1" y2="1632.1"/>
<line x1="1471.1" y1="81.7" x2="1471.1" y2="102.7"/>
<line x1="1790.4" y1="1653.1" x2="1790.4" y2="1632.1"/>
<line x1="1790.4" y1="81.7" x2="1790.4" y2="102.7"/>
<line x1="2109.6" y1="1653.1" x2="2109.6" y2="1632.1"/>
<line x1="2109.6" y1="81.7" x2="2109.6" y2="102.7"/>
<line x1="2428.9" y1="1653.1" x2="2428.9" y2="1632.1"/>
<line x1="2428.9" y1="81.7" x2="2428.9" y2="102.7"/>
<line x1="194.0" y1="1644.3" x2="215.0" y2="1644.3"/>
<line x1="2428.9" y1="1644.3" x2="2407.9" y2="1644.3"/>
<line x1="194.0" y1="1354.3" x2="215.0" y2="1354.3"/>
<line x1="2428.9" y1="1354.3" x2="2407.9" y2="1354.3"/>
<line x1="194.0" y1="1064.3" x2="215.0" y2="1064.3"/>
<line x1="2428.9" y1="1064.3" x2="2407.9" y2="1064.3"/>
<line x1="194.0" y1="774.2" x2="215.0" y2="774.2"/>
<line x1="2428.9" y1="774.2" x2="2407.9" y2="774.2"/>
<line x1="194.0" y1="484.2" x2="215.0" y2="484.2"/>
<line x1="2428.9" y1="484.2" x2="2407.9" y2="484.2"/>
<line x1="194.0" y1="194.2" x2="215.0" y2="194.2"/>
<line x1="2428.9" y1="194.2" x2="2407.9" y2="194.2"/>
</g><g class="m">
<line x1="257.9" y1="1653.1" x2="257.9" y2="1642.1"/>
<line x1="257.9" y1="81.7" x2="257.9" y2="92.7"/>
<line x1="321.7" y1="1653.1" x2="321.7" y2="1642.1"/>
<line x1="321.7" y1="81.7" x2="321.7" y2="92.7"/>
<line x1="385.6" y1="1653.1" x2="385.6" y2="1642.1"/>
<line x1="385.6" y1="81.7" x2="385.6" y2="92.7"/>
<line x1="449.4" y1="1653.1" x2="449.4" y2="1642.1"/>
<line x1="449.4" y1="81.7" x2="449.4" y2="92.7"/>
<line x1="577.1" y1="1653.1" x2="577.1" y2="1642.1"/>
<line x1="577.1" y1="81.7" x2="577.1" y2="92.7"/>
<line x1="641.0" y1="1653.1" x2="641.0" y2="1642.1"/>
<line x1="641.0" y1="81.7" x2="641.0" y2="92.7"/>
<line x1="704.8" y1="1653.1" x2="704.8" y2="1642.1"/>
<line x1="704.8" y1="81.7" x2="704.8" y2="92.7"/>
<line x1="768.7" y1="1653.1" x2="768.7" y2="1642.1"/>
<line x1="768.7" y1="81.7" x2="768.7" y2="92.7"/>
<line x1="896.4" y1="1653.1" x2="896.4" y2="1642.1"/>
<line x1="896.4" y1="81.7" x2="896.4" y2="92.7"/>
<line x1="960.3" y1="1653.1" x2="960.3" y2="1642.1"/>
<line x1="960.3" y1="81.7" x2="960.3" y2="92.7"/>
<line x1="1024.1" y1="1653.1" x2="1024.1" y2="1642.1"/>
<line x1="1024.1" y1="81.7" x2="1024.1" y2="92.7"/>
<line x1="1088.0" y1="1653.1" x2="1088.0" y2="1642.1"/>
<line x1="1088.0" y1="81.7" x2="1088.0" y2="92.7"/>
<line x1="1215.7" y1="1653.1" x2="1215.7" y2="1642.1"/>
<line x1="1215.7" y1="81.7" x2="1215.7" y2="92.7"/>
<line x1="1279.5" y1="1653.1" x2="1279.5" y2="1642.1"/>
<line x1="1279.5" y1="81.7" x2="1279.5" y2="92.7"/>
<line x1="1343.4" y1="1653.1" x2="1343.4" y2="1642.1"/>
<line x1="1343.4" y1="81.7" x2="1343.4" y2="92.7"/>
<line x1="1407.2" y1="1653.1" x2="1407.2" y2="1642.1"/>
<line x1="1407.2" y1="81.7" x2="1407.2" y2="92.7"/>
<line x1="1534.9" y1="1653.1" x2="1534.9" y2="1642.1"/>
<line x1="1534.9" y1="81.7" x2="1534.9" y2="92.7"/>
<line x1="1598.8" y1="1653.1" x2="1598.8" y2="1642.1"/>
<line x1="1598.8" y1="81.7" x2="1598.8" y2="92.7"/>
<line x1="1662.6" y1="1653.1" x2="1662.6" y2="1642.1"/>
<line x1="1662.6" y1="81.7" x2="1662.6" y2="92.7"/>
<line x1="1726.5" y1="1653.1" x2="1726.5" y2="1642.1"/>
<line x1="1726.5" y1="81.7" x2="1726.5" y2="92.7"/>
<line x1="1854.2" y1="1653.1" x2="1854.2" y2="1642.1"/>
<line x1="1854.2" y1="81.7" x2="1854.2" y2="92.7"/>
<line x1="1918.1" y1="1653.1" x2="1918.1" y2="1642.1"/>
<line x1="1918.1" y1="81.7" x2="1918.1" y2="92.7"/>
<line x1="1981.9" y1="1653.1" x2="1981.9" y2="1642.1"/>
<line x1="1981.9" y1="81.7" x2="1981.9" y2="92.7"/>
<line x1="2045.8" y1="1653.1" x2="2045.8" y2="1642.1"/>
<line x1="2045.8" y1="81.7" x2="2045.8" y2="92.7"/>
<line x1="2173.5" y1="1653.1" x2="2173.5" y2="1642.1"/>
<line x1="2173.5" y1="81.7" x2="2173.5" y2="92.7"/>
<line x1="2237.3" y1="1653.1" x2="2237.3" y2="1642.1"/>
<line x1="2237.3" y1="81.7" x2="2237.3" y2="92.7"/>
<line x1="2301.2" y1="1653.1" x2="2301.2" y2="1642.1"/>
<line x1="2301.2" y1="81.7" x2="2301.2" y2="92.7"/>
<line x1="2365.0" y1="1653.1" x2="2365.0" y2="1642.1"/>
<line x1="2365.0" y1="81.7" x2="2365.0" y2="92.7"/>
<line x1="194.0" y1="1586.3" x2="205.0" y2="1586.3"/>
<line x1="2428.9" y1="1586.3" x2="2417.9" y2="1586.3"/>
<line x1="194.0" y1="1528.3" x2="205.0" y2="1528.3"/>
<line x1="2428.9" y1="1528.3" x2="2417.9" y2="1528.3"/>
<line x1="194.0" y1="1470.3" x2="205.0" y2="1470.3"/>
<line x1="2428.9" y1="1470.3" x2="2417.9" y2="1470.3"/>
<line x1="194.0" y1="1412.3" x2="205.0" y2="1412.3"/>
<line x1="2428.9" y1="1412.3" x2="2417.9" y2="1412.3"/>
<line x1="194.0" y1="1296.3" x2="205.0" y2="1296.3"/>
<line x1="2428.9" y1="1296.3" x2="2417.9" y2="1296.3"/>
<line x1="194.0" y1="1238.3" x2="205.0" y2="1238.3"/>
<line x1="2428.9" y1="1238.3" x2="2417.9" y2="1238.3"/>
<line x1="194.0" y1="1180.3" x2="205.0" y2="1180.3"/>
<line x1="2428.9" y1="1180.3" x2="2417.9" y2="1180.3"/>
<line x1="194.0" y1="1122.3" x2="205.0" y2="1122.3"/>
<line x1="2428.9" y1="1122.3" x2="2417.9" y2="1122.3"/>
<line x1="194.0" y1="1006.3" x2="205.0" y2="1006.3"/>
<line x1="2428.9" y1="1006.3" x2="2417.9" y2="1006.3"/>
<line x1="194.0" y1="948.3" x2="205.0" y2="948.3"/>
<line x1="2428.9" y1="948.3" x2="2417.9" y2="948.3"/>
<line x1="194.0" y1="890.2" x2="205.0" y2="890.2"/>
<line x1="2428.9" y1="890.2" x2="2417.9" y2="890.2"/>
<line x1="194.0" y1="832.2" x2="205.0" y2="832.2"/>
<line x1="2428.9" y1="832.2" x2="2417.9" y2="832.2"/>
<line x1="194.0" y1="716.2" x2="205.0" y2="716.2"/>
<line x1="2428.9" y1="716.2" x2="2417.9" y2="716.2"/>
<line x1="194.0" y1="658.2" x2="205.0" y2="658.2"/>
<line x1="2428.9" y1="658.2" x2="2417.9" y2="658.2"/>
<line x1="194.0" y1="600.2" x2="205.0" y2="600.2"/>
<line x1="2428.9" y1="600.2" x2="2417.9" y2="600.2"/>
<line x1="194.0" y1="542.2" x2="205.0" y2="542.2"/>
<line x1="2428.9" y1="542.2" x2="2417.9" y2="542.2"/>
<line x1="194.0" y1="426.2" x2="205.0" y2="426.2"/>
<line x1="2428.9" y1="426.2" x2="2417.9" y2="426.2"/>
<line x1="194.0" y1="368.2" x2="205.0" y2="368.2"/>
<line x1="2428.9" y1="368.2" x2="2417.9" y2="368.2"/>
<line x1="194.0" y1="310.2" x2="205.0" y2="310.2"/>
<line x1="2428.9" y1="310.2" x2="2417.9" y2="310.2"/>
<line x1="194.0" y1="252.2" x2="205.0" y2="252.2"/>
<line x1="2428.9" y1="252.2" x2="2417.9" y2="252.2"/>
<line x1="194.0" y1="136.2" x2="205.0" y2="136.2"/>
<line x1="2428.9" y1="136.2" x2="2417.9" y2="136.2"/>
</g>
<rect x="1870.0" y="115.1" width="539.0" height="279.6" rx="11" fill="#000" fill-opacity="0.355"/>
<rect x="1865.0" y="110.4" width="535.0" height="275.6" rx="9" fill="#fff" fill-opacity="0.8" stroke="#ccc" stroke-opacity="0.8" stroke-width="4"/>
<line x1="1881.8" y1="154.3" x2="2009.3" y2="154.3" stroke="#0000ff" stroke-width="11.1"/>
<text class="t" x="2048" y="175.7" textLength="24" lengthAdjust="spacingAndGlyphs">ε</text>
<text x="2062.3" y="143.7" font-size="72" text-anchor="middle">.</text>
<text class="t" x="2090" y="176.2" textLength="43.5" lengthAdjust="spacingAndGlyphs">=</text>
<text class="t" x="2150.7" y="175.2" textLength="127.3" lengthAdjust="spacingAndGlyphs">0.001</text>
<text class="t" x="2293.0" y="175.2" textLength="27.8" lengthAdjust="spacingAndGlyphs">s</text>
<text x="2323.0" y="154.9" font-size="45" textLength="52.4" lengthAdjust="spacingAndGlyphs">−1</text>
<line x1="1881.8" y1="240.3" x2="2009.3" y2="240.3" stroke="#008000" stroke-width="11.1"/>
<text class="t" x="2048" y="261.7" textLength="24" lengthAdjust="spacingAndGlyphs">ε</text>
<text x="2062.3" y="229.7" font-size="72" text-anchor="middle">.</text>
<text class="t" x="2090" y="262.2" textLength="43.5" lengthAdjust="spacingAndGlyphs">=</text>
<text class="t" x="2150.7" y="261.2" textLength="99.5" lengthAdjust="spacingAndGlyphs">0.01</text>
<text class="t" x="2265.2" y="261.2" textLength="26.5" lengthAdjust="spacingAndGlyphs">s</text>
<text x="2294.0" y="240.9" font-size="45" textLength="52.3" lengthAdjust="spacingAndGlyphs">−1</text>
<line x1="1881.8" y1="326.3" x2="2009.3" y2="326.3" stroke="#ff0000" stroke-width="11.1"/>
<text class="t" x="2048" y="347.6" textLength="24" lengthAdjust="spacingAndGlyphs">ε</text>
<text x="2062.3" y="315.6" font-size="72" text-anchor="middle">.</text>
<text class="t" x="2090" y="348.1" textLength="43.5" lengthAdjust="spacingAndGlyphs">=</text>
<text class="t" x="2150.7" y="347.1" textLength="70.4" lengthAdjust="spacingAndGlyphs">0.1</text>
<text class="t" x="2236.1" y="347.1" textLength="26.5" lengthAdjust="spacingAndGlyphs">s</text>
<text x="2264.9" y="326.8" font-size="45" textLength="52.3" lengthAdjust="spacingAndGlyphs">−1</text>
<rect x="194.0" y="81.7" width="2234.9" height="1571.4" fill="none" stroke="#000" stroke-width="2.2"/>
<text class="t" x="194.0" y="1705" text-anchor="middle">0.0</text>
<text class="t" x="513.3" y="1705" text-anchor="middle">0.1</text>
<text class="t" x="832.5" y="1705" text-anchor="middle">0.2</text>
<text class="t" x="1151.8" y="1705" text-anchor="middle">0.3</text>
<text class="t" x="1471.1" y="1705" text-anchor="middle">0.4</text>
<text class="t" x="1790.4" y="1705" text-anchor="middle">0.5</text>
<text class="t" x="2109.6" y="1705" text-anchor="middle">0.6</text>
<text class="t" x="2428.9" y="1705" text-anchor="middle">0.7</text>
<text class="t" x="182" y="1665.3" text-anchor="end">50</text>
<text class="t" x="182" y="1375.3" text-anchor="end">100</text>
<text class="t" x="182" y="1085.3" text-anchor="end">150</text>
<text class="t" x="182" y="795.2" text-anchor="end">200</text>
<text class="t" x="182" y="505.2" text-anchor="end">250</text>
<text class="t" x="182" y="215.2" text-anchor="end">300</text>
<text x="628.0" y="61.8" font-size="58" textLength="117.5" lengthAdjust="spacingAndGlyphs">Flow</text>
<text x="764.4" y="61.8" font-size="58" textLength="129.9" lengthAdjust="spacingAndGlyphs">stress</text>
<text x="910.0" y="61.8" font-size="58" textLength="31.0" lengthAdjust="spacingAndGlyphs" font-style="italic">σ</text>
<text x="943.5" y="46.3" font-size="41" textLength="22.5" lengthAdjust="spacingAndGlyphs" font-style="italic">y</text>
<text x="980.3" y="61.8" font-size="58" textLength="66.1" lengthAdjust="spacingAndGlyphs">for</text>
<text x="1066.0" y="61.8" font-size="58" textLength="35.0" lengthAdjust="spacingAndGlyphs" font-style="italic">T</text>
<text x="1111.5" y="62.8" font-size="58" textLength="45.0" lengthAdjust="spacingAndGlyphs">=</text>
<text x="1174.5" y="61.8" font-size="58" textLength="142.5" lengthAdjust="spacingAndGlyphs">750°C</text>
<text x="1334.7" y="61.8" font-size="58" textLength="108.3" lengthAdjust="spacingAndGlyphs">with</text>
<text x="1456.5" y="61.8" font-size="58" textLength="161.5" lengthAdjust="spacingAndGlyphs">3-7-4-1</text>
<text x="1634.0" y="61.8" font-size="58" textLength="132.5" lengthAdjust="spacingAndGlyphs">ANN</text>
<text x="1782.8" y="61.8" font-size="58" textLength="104.2" lengthAdjust="spacingAndGlyphs">flow</text>
<text x="1903.5" y="61.8" font-size="58" textLength="86.0" lengthAdjust="spacingAndGlyphs">law</text>
<text x="1225.5" y="1772.2" font-size="58" textLength="138.0" lengthAdjust="spacingAndGlyphs">strain</text>
<text x="1376.5" y="1772.2" font-size="49" textLength="21.0" lengthAdjust="spacingAndGlyphs">ε</text>
<g transform="translate(70.4,0) rotate(-90)">
<text x="-1110.9" y="0.0" font-size="58" textLength="98.9" lengthAdjust="spacingAndGlyphs">flow</text>
<text x="-988.6" y="0.0" font-size="58" textLength="129.0" lengthAdjust="spacingAndGlyphs">stress</text>
<text x="-842.0" y="0.0" font-size="58" textLength="33.0" lengthAdjust="spacingAndGlyphs" font-style="italic">σ</text>
<text x="-804.5" y="-15.5" font-size="41" textLength="26.0" lengthAdjust="spacingAndGlyphs" font-style="italic">y</text>
<text x="-758.0" y="0.0" font-size="58" textLength="135.0" lengthAdjust="spacingAndGlyphs">(MPa)</text>
</g>
</svg></body></html>
